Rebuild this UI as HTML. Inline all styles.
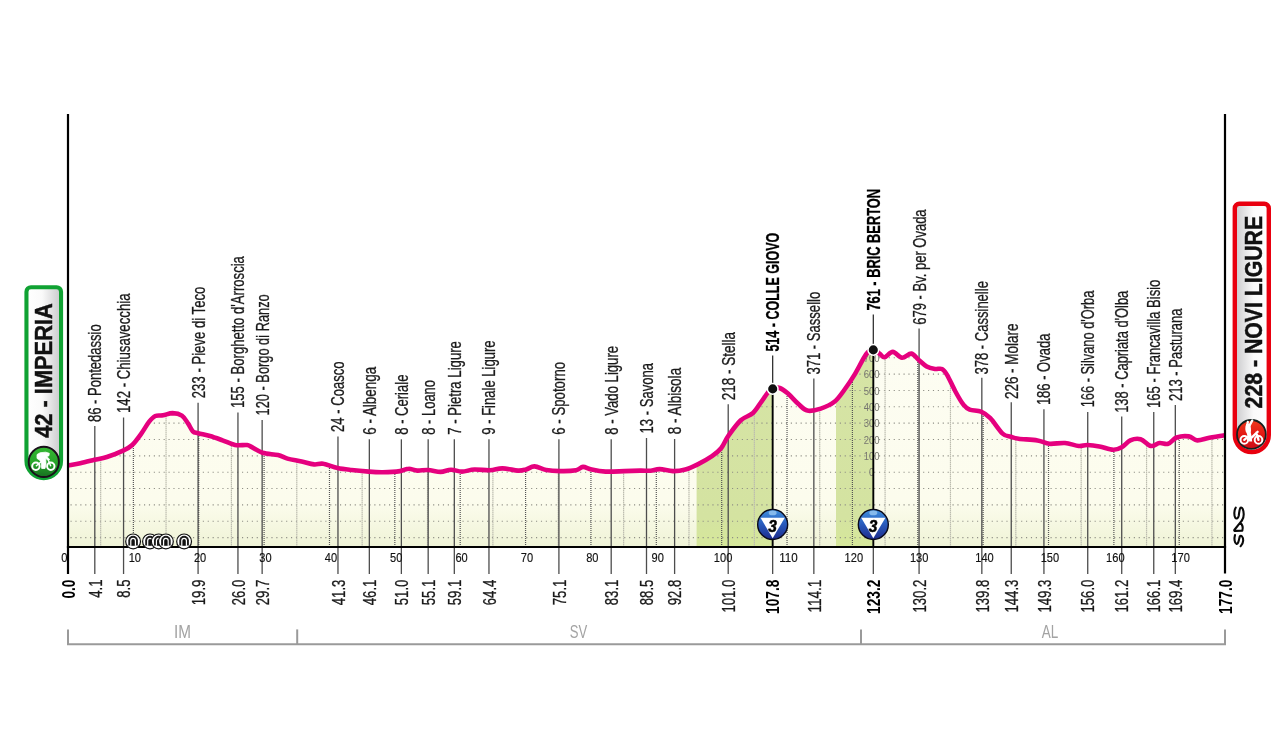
<!DOCTYPE html>
<html><head><meta charset="utf-8"><title>Stage profile</title>
<style>
html,body{margin:0;padding:0;background:#fff;}
body{width:1280px;height:731px;overflow:hidden;font-family:"Liberation Sans",sans-serif;}
svg{display:block;font-family:"Liberation Sans",sans-serif;will-change:transform;}
</style></head><body>
<svg width="1280" height="731" viewBox="0 0 1280 731">
<defs>
<linearGradient id="cream" x1="0" y1="330" x2="0" y2="550" gradientUnits="userSpaceOnUse">
<stop offset="0" stop-color="#fdfdf3"/><stop offset="0.78" stop-color="#fcfced"/><stop offset="0.99" stop-color="#eff3d6"/><stop offset="1" stop-color="#eff3d6"/>
</linearGradient>
<linearGradient id="grn" x1="0" y1="330" x2="0" y2="550" gradientUnits="userSpaceOnUse">
<stop offset="0" stop-color="#d6e4a6"/><stop offset="0.85" stop-color="#d4e3a1"/><stop offset="0.99" stop-color="#d6e89a"/><stop offset="1" stop-color="#d6e89a"/>
</linearGradient>
<linearGradient id="badgeL" x1="0" y1="0" x2="1" y2="0"><stop offset="0" stop-color="#ffffff"/><stop offset="0.45" stop-color="#fafafa"/><stop offset="1" stop-color="#c9c9cb"/></linearGradient>
<linearGradient id="badgeR" x1="0" y1="0" x2="1" y2="0"><stop offset="0" stop-color="#c9c9cb"/><stop offset="0.55" stop-color="#fafafa"/><stop offset="1" stop-color="#ffffff"/></linearGradient>
<linearGradient id="gcirc" x1="0" y1="0" x2="0" y2="1"><stop offset="0" stop-color="#35b832"/><stop offset="0.55" stop-color="#27a32a"/><stop offset="1" stop-color="#176f20"/></linearGradient>
<linearGradient id="rcirc" x1="0" y1="0" x2="0" y2="1"><stop offset="0" stop-color="#ee3a1c"/><stop offset="0.5" stop-color="#e31a14"/><stop offset="1" stop-color="#cc0d18"/></linearGradient>
<linearGradient id="kom" x1="0" y1="0" x2="0" y2="1"><stop offset="0" stop-color="#3f8fdc"/><stop offset="0.45" stop-color="#2a5fc0"/><stop offset="1" stop-color="#1c2a8c"/></linearGradient>
<clipPath id="area"><path d="M68.0,465.6 C70.0,465.2 75.9,464.3 80.3,463.3 C84.7,462.3 90.0,460.9 94.4,459.8 C98.8,458.8 102.2,458.5 106.9,457.0 C111.6,455.5 118.3,452.8 122.5,450.8 C126.7,448.9 128.8,448.2 131.9,445.3 C135.0,442.4 138.5,437.5 141.3,433.6 C144.2,429.7 146.7,424.8 149.0,421.9 C151.3,419.0 153.0,417.1 155.3,416.0 C157.6,414.9 160.1,415.8 163.0,415.3 C165.9,414.8 169.3,413.1 172.5,413.1 C175.7,413.2 179.3,413.9 181.9,415.6 C184.5,417.3 186.2,420.8 188.0,423.4 C189.8,426.0 191.1,429.6 192.8,431.3 C194.5,433.0 195.4,432.5 198.3,433.3 C201.2,434.1 206.0,434.8 210.0,436.0 C214.0,437.2 218.3,438.8 222.5,440.3 C226.7,441.8 231.1,444.2 235.0,445.0 C238.9,445.8 243.5,444.8 246.0,445.0 C248.5,445.2 247.2,444.8 250.0,446.1 C252.8,447.4 257.8,451.3 262.5,452.8 C267.2,454.3 273.8,454.0 278.0,455.0 C282.2,456.0 283.6,457.5 287.5,458.6 C291.4,459.7 297.2,460.4 301.6,461.4 C306.0,462.4 310.4,464.0 314.0,464.4 C317.6,464.8 319.5,463.1 323.4,463.8 C327.3,464.4 332.8,467.0 337.5,468.0 C342.2,469.0 346.4,469.4 351.6,470.0 C356.8,470.6 363.6,471.2 368.8,471.6 C373.9,472.0 377.6,472.3 382.8,472.2 C388.0,472.1 395.7,471.7 400.0,471.1 C404.3,470.5 405.7,468.8 408.6,468.8 C411.5,468.7 414.0,470.4 417.2,470.6 C420.4,470.8 424.1,469.8 428.0,470.0 C431.9,470.2 436.8,471.9 440.6,471.9 C444.4,471.8 447.4,469.8 451.0,469.7 C454.6,469.6 458.0,471.6 461.9,471.6 C465.8,471.6 469.7,469.7 474.4,469.5 C479.1,469.3 485.3,470.5 490.0,470.3 C494.7,470.1 497.8,468.3 502.5,468.4 C507.2,468.4 514.1,470.4 518.0,470.6 C521.9,470.8 523.2,470.2 526.0,469.5 C528.8,468.8 531.1,466.3 534.5,466.4 C537.9,466.5 542.0,469.2 546.2,470.0 C550.5,470.8 555.3,471.1 560.3,471.1 C565.3,471.2 572.2,471.0 576.0,470.3 C579.8,469.6 580.4,467.0 583.0,466.9 C585.6,466.8 587.8,468.7 591.6,469.5 C595.4,470.3 600.1,471.3 605.6,471.6 C611.1,471.9 618.7,471.3 624.4,471.1 C630.1,470.9 635.6,470.7 640.0,470.6 C644.4,470.5 647.2,470.9 650.5,470.7 C653.8,470.4 656.0,469.0 659.7,469.1 C663.5,469.2 668.7,471.0 673.0,471.1 C677.3,471.2 681.3,470.6 685.4,469.5 C689.5,468.4 693.3,466.6 697.7,464.4 C702.1,462.2 708.1,458.9 712.0,456.2 C715.9,453.5 718.5,451.4 721.3,448.0 C724.0,444.6 725.2,440.2 728.5,435.6 C731.8,431.0 736.7,424.1 740.8,420.3 C744.9,416.5 749.6,416.1 753.0,413.0 C756.4,409.9 758.8,405.2 761.3,401.8 C763.8,398.4 765.9,394.9 767.8,392.6 C769.7,390.3 770.6,388.8 772.6,388.0 C774.6,387.2 777.1,387.1 779.7,388.0 C782.3,388.9 784.9,391.0 788.0,393.6 C791.1,396.2 795.0,401.0 798.2,403.8 C801.4,406.6 803.6,409.8 807.4,410.6 C811.2,411.4 816.3,410.1 820.8,408.6 C825.3,407.1 830.4,405.0 834.4,401.8 C838.4,398.6 841.2,394.1 844.6,389.5 C848.0,384.9 851.3,380.0 854.9,374.1 C858.5,368.2 863.1,358.4 866.2,354.2 C869.3,350.0 871.1,349.1 873.3,349.0 C875.5,348.9 877.6,352.2 879.5,353.6 C881.4,355.0 882.4,357.6 884.6,357.3 C886.8,357.0 889.9,351.8 892.8,351.9 C895.7,352.0 898.9,357.4 902.0,357.7 C905.1,358.0 908.5,353.3 911.3,353.6 C914.0,353.9 915.9,357.6 918.5,359.7 C921.1,361.8 924.0,364.9 926.7,366.5 C929.4,368.1 932.4,368.6 934.9,369.0 C937.4,369.4 940.0,368.0 942.0,369.0 C944.0,370.0 945.0,371.4 947.2,375.1 C949.4,378.9 952.7,386.5 955.4,391.5 C958.1,396.5 961.2,401.9 963.6,404.9 C966.0,407.9 966.8,408.5 969.7,409.6 C972.6,410.7 977.6,410.2 981.0,411.6 C984.4,413.0 986.7,414.5 990.3,418.2 C993.9,421.9 999.2,430.5 1002.6,433.6 C1006.0,436.7 1008.1,435.9 1010.8,436.7 C1013.5,437.5 1014.1,438.1 1018.6,438.7 C1023.1,439.3 1032.3,439.5 1037.5,440.4 C1042.7,441.2 1044.9,443.4 1049.5,443.8 C1054.1,444.2 1060.1,442.6 1065.0,443.0 C1069.9,443.4 1075.0,445.7 1078.8,446.0 C1082.5,446.3 1083.9,444.9 1087.3,445.0 C1090.7,445.1 1095.1,445.6 1099.4,446.4 C1103.7,447.2 1109.4,449.6 1113.1,449.8 C1116.8,450.0 1118.8,448.9 1121.7,447.3 C1124.6,445.7 1127.2,441.8 1130.3,440.4 C1133.4,439.0 1137.2,438.3 1140.6,439.2 C1144.0,440.1 1147.8,445.4 1150.9,446.0 C1154.1,446.6 1156.6,443.4 1159.5,443.0 C1162.4,442.6 1165.2,444.7 1168.1,443.8 C1171.0,442.9 1173.3,438.7 1176.7,437.5 C1180.1,436.3 1185.3,435.9 1188.8,436.4 C1192.2,436.9 1193.9,440.2 1197.3,440.4 C1200.7,440.6 1204.8,438.7 1209.4,437.8 C1214.0,436.9 1222.4,435.6 1225.0,435.2 L1225,547.1 L68,547.1 Z"/></clipPath>
</defs>
<rect width="1280" height="731" fill="#fff"/>

<g clip-path="url(#area)">
<rect x="68" y="330" width="1157" height="220" fill="url(#cream)"/>
<rect x="696.6" y="330" width="76.1" height="220" fill="url(#grn)"/>
<rect x="836" y="330" width="37.3" height="220" fill="url(#grn)"/>
<line x1="70.5" x2="1225" y1="537.60" y2="537.60" stroke="#8f8f86" stroke-width="1.1" stroke-dasharray="1.15 3.75"/>
<line x1="70.5" x2="1225" y1="521.25" y2="521.25" stroke="#8f8f86" stroke-width="1.1" stroke-dasharray="1.15 3.75"/>
<line x1="70.5" x2="1225" y1="504.90" y2="504.90" stroke="#8f8f86" stroke-width="1.1" stroke-dasharray="1.15 3.75"/>
<line x1="70.5" x2="1225" y1="488.55" y2="488.55" stroke="#8f8f86" stroke-width="1.1" stroke-dasharray="1.15 3.75"/>
<line x1="70.5" x2="1225" y1="472.20" y2="472.20" stroke="#8f8f86" stroke-width="1.1" stroke-dasharray="1.15 3.75"/>
<line x1="70.5" x2="1225" y1="455.85" y2="455.85" stroke="#8f8f86" stroke-width="1.1" stroke-dasharray="1.15 3.75"/>
<line x1="70.5" x2="1225" y1="439.50" y2="439.50" stroke="#8f8f86" stroke-width="1.1" stroke-dasharray="1.15 3.75"/>
<line x1="70.5" x2="1225" y1="423.15" y2="423.15" stroke="#8f8f86" stroke-width="1.1" stroke-dasharray="1.15 3.75"/>
<line x1="70.5" x2="1225" y1="406.80" y2="406.80" stroke="#8f8f86" stroke-width="1.1" stroke-dasharray="1.15 3.75"/>
<line x1="70.5" x2="1225" y1="390.45" y2="390.45" stroke="#8f8f86" stroke-width="1.1" stroke-dasharray="1.15 3.75"/>
<line x1="70.5" x2="1225" y1="374.10" y2="374.10" stroke="#8f8f86" stroke-width="1.1" stroke-dasharray="1.15 3.75"/>
<line x1="70.5" x2="1225" y1="357.75" y2="357.75" stroke="#8f8f86" stroke-width="1.1" stroke-dasharray="1.15 3.75"/>
<line x1="100.68" x2="100.68" y1="330" y2="547.1" stroke="#bdbdb0" stroke-width="1.2" stroke-dasharray="1.4 0.6"/>
<line x1="133.37" x2="133.37" y1="330" y2="547.1" stroke="#555" stroke-width="1.2" stroke-dasharray="1 1"/>
<line x1="166.05" x2="166.05" y1="330" y2="547.1" stroke="#bdbdb0" stroke-width="1.2" stroke-dasharray="1.4 0.6"/>
<line x1="198.73" x2="198.73" y1="330" y2="547.1" stroke="#555" stroke-width="1.2" stroke-dasharray="1 1"/>
<line x1="231.42" x2="231.42" y1="330" y2="547.1" stroke="#bdbdb0" stroke-width="1.2" stroke-dasharray="1.4 0.6"/>
<line x1="264.10" x2="264.10" y1="330" y2="547.1" stroke="#555" stroke-width="1.2" stroke-dasharray="1 1"/>
<line x1="296.79" x2="296.79" y1="330" y2="547.1" stroke="#bdbdb0" stroke-width="1.2" stroke-dasharray="1.4 0.6"/>
<line x1="329.47" x2="329.47" y1="330" y2="547.1" stroke="#555" stroke-width="1.2" stroke-dasharray="1 1"/>
<line x1="362.15" x2="362.15" y1="330" y2="547.1" stroke="#bdbdb0" stroke-width="1.2" stroke-dasharray="1.4 0.6"/>
<line x1="394.84" x2="394.84" y1="330" y2="547.1" stroke="#555" stroke-width="1.2" stroke-dasharray="1 1"/>
<line x1="427.52" x2="427.52" y1="330" y2="547.1" stroke="#bdbdb0" stroke-width="1.2" stroke-dasharray="1.4 0.6"/>
<line x1="460.20" x2="460.20" y1="330" y2="547.1" stroke="#555" stroke-width="1.2" stroke-dasharray="1 1"/>
<line x1="492.89" x2="492.89" y1="330" y2="547.1" stroke="#bdbdb0" stroke-width="1.2" stroke-dasharray="1.4 0.6"/>
<line x1="525.57" x2="525.57" y1="330" y2="547.1" stroke="#555" stroke-width="1.2" stroke-dasharray="1 1"/>
<line x1="558.25" x2="558.25" y1="330" y2="547.1" stroke="#bdbdb0" stroke-width="1.2" stroke-dasharray="1.4 0.6"/>
<line x1="590.94" x2="590.94" y1="330" y2="547.1" stroke="#555" stroke-width="1.2" stroke-dasharray="1 1"/>
<line x1="623.62" x2="623.62" y1="330" y2="547.1" stroke="#bdbdb0" stroke-width="1.2" stroke-dasharray="1.4 0.6"/>
<line x1="656.31" x2="656.31" y1="330" y2="547.1" stroke="#555" stroke-width="1.2" stroke-dasharray="1 1"/>
<line x1="688.99" x2="688.99" y1="330" y2="547.1" stroke="#bdbdb0" stroke-width="1.2" stroke-dasharray="1.4 0.6"/>
<line x1="721.67" x2="721.67" y1="330" y2="547.1" stroke="#555" stroke-width="1.2" stroke-dasharray="1 1"/>
<line x1="754.36" x2="754.36" y1="330" y2="547.1" stroke="#bdbdb0" stroke-width="1.2" stroke-dasharray="1.4 0.6"/>
<line x1="787.04" x2="787.04" y1="330" y2="547.1" stroke="#555" stroke-width="1.2" stroke-dasharray="1 1"/>
<line x1="819.72" x2="819.72" y1="330" y2="547.1" stroke="#bdbdb0" stroke-width="1.2" stroke-dasharray="1.4 0.6"/>
<line x1="852.41" x2="852.41" y1="330" y2="547.1" stroke="#555" stroke-width="1.2" stroke-dasharray="1 1"/>
<line x1="885.09" x2="885.09" y1="330" y2="547.1" stroke="#bdbdb0" stroke-width="1.2" stroke-dasharray="1.4 0.6"/>
<line x1="917.77" x2="917.77" y1="330" y2="547.1" stroke="#555" stroke-width="1.2" stroke-dasharray="1 1"/>
<line x1="950.46" x2="950.46" y1="330" y2="547.1" stroke="#bdbdb0" stroke-width="1.2" stroke-dasharray="1.4 0.6"/>
<line x1="983.14" x2="983.14" y1="330" y2="547.1" stroke="#555" stroke-width="1.2" stroke-dasharray="1 1"/>
<line x1="1015.82" x2="1015.82" y1="330" y2="547.1" stroke="#bdbdb0" stroke-width="1.2" stroke-dasharray="1.4 0.6"/>
<line x1="1048.51" x2="1048.51" y1="330" y2="547.1" stroke="#555" stroke-width="1.2" stroke-dasharray="1 1"/>
<line x1="1081.19" x2="1081.19" y1="330" y2="547.1" stroke="#bdbdb0" stroke-width="1.2" stroke-dasharray="1.4 0.6"/>
<line x1="1113.88" x2="1113.88" y1="330" y2="547.1" stroke="#555" stroke-width="1.2" stroke-dasharray="1 1"/>
<line x1="1146.56" x2="1146.56" y1="330" y2="547.1" stroke="#bdbdb0" stroke-width="1.2" stroke-dasharray="1.4 0.6"/>
<line x1="1179.24" x2="1179.24" y1="330" y2="547.1" stroke="#555" stroke-width="1.2" stroke-dasharray="1 1"/>
<line x1="1211.93" x2="1211.93" y1="330" y2="547.1" stroke="#bdbdb0" stroke-width="1.2" stroke-dasharray="1.4 0.6"/>
</g>
<g font-size="11.5" fill="#77776f" text-anchor="middle" clip-path="url(#area)">
<text x="871.7" y="476.3" textLength="5.3" lengthAdjust="spacingAndGlyphs">0</text>
<text x="871.7" y="459.9" textLength="15.9" lengthAdjust="spacingAndGlyphs">100</text>
<text x="871.7" y="443.6" textLength="15.9" lengthAdjust="spacingAndGlyphs">200</text>
<text x="871.7" y="427.2" textLength="15.9" lengthAdjust="spacingAndGlyphs">300</text>
<text x="871.7" y="410.9" textLength="15.9" lengthAdjust="spacingAndGlyphs">400</text>
<text x="871.7" y="394.6" textLength="15.9" lengthAdjust="spacingAndGlyphs">500</text>
<text x="871.7" y="378.2" textLength="15.9" lengthAdjust="spacingAndGlyphs">600</text>
<text x="871.7" y="361.9" textLength="15.9" lengthAdjust="spacingAndGlyphs">700</text>
</g>
<line x1="94.80" x2="94.80" y1="426.0" y2="574" stroke="#4d4d4d" stroke-width="1.3"/>
<line x1="123.56" x2="123.56" y1="417.5" y2="574" stroke="#4d4d4d" stroke-width="1.3"/>
<line x1="198.08" x2="198.08" y1="402.7" y2="574" stroke="#4d4d4d" stroke-width="1.3"/>
<line x1="237.95" x2="237.95" y1="412.6" y2="574" stroke="#4d4d4d" stroke-width="1.3"/>
<line x1="262.14" x2="262.14" y1="420.0" y2="574" stroke="#4d4d4d" stroke-width="1.3"/>
<line x1="337.97" x2="337.97" y1="436.6" y2="574" stroke="#4d4d4d" stroke-width="1.3"/>
<line x1="369.34" x2="369.34" y1="439.3" y2="574" stroke="#4d4d4d" stroke-width="1.3"/>
<line x1="401.37" x2="401.37" y1="439.3" y2="574" stroke="#4d4d4d" stroke-width="1.3"/>
<line x1="428.17" x2="428.17" y1="439.3" y2="574" stroke="#4d4d4d" stroke-width="1.3"/>
<line x1="454.32" x2="454.32" y1="439.3" y2="574" stroke="#4d4d4d" stroke-width="1.3"/>
<line x1="488.96" x2="488.96" y1="439.3" y2="574" stroke="#4d4d4d" stroke-width="1.3"/>
<line x1="558.91" x2="558.91" y1="439.3" y2="574" stroke="#4d4d4d" stroke-width="1.3"/>
<line x1="611.20" x2="611.20" y1="439.3" y2="574" stroke="#4d4d4d" stroke-width="1.3"/>
<line x1="646.50" x2="646.50" y1="438.0" y2="574" stroke="#4d4d4d" stroke-width="1.3"/>
<line x1="674.61" x2="674.61" y1="439.0" y2="574" stroke="#4d4d4d" stroke-width="1.3"/>
<line x1="728.21" x2="728.21" y1="404.2" y2="574" stroke="#4d4d4d" stroke-width="1.3"/>
<line x1="772.66" x2="772.66" y1="355.6" y2="388.9" stroke="#333" stroke-width="1.3"/>
<line x1="772.66" x2="772.66" y1="388.9" y2="548" stroke="#000" stroke-width="1.9"/>
<line x1="772.66" x2="772.66" y1="547" y2="574" stroke="#4d4d4d" stroke-width="1.3"/>
<line x1="813.84" x2="813.84" y1="378.6" y2="574" stroke="#4d4d4d" stroke-width="1.3"/>
<line x1="873.32" x2="873.32" y1="314.6" y2="349.9" stroke="#333" stroke-width="1.3"/>
<line x1="873.32" x2="873.32" y1="349.9" y2="548" stroke="#000" stroke-width="1.9"/>
<line x1="873.32" x2="873.32" y1="547" y2="574" stroke="#4d4d4d" stroke-width="1.3"/>
<line x1="919.08" x2="919.08" y1="328.4" y2="574" stroke="#4d4d4d" stroke-width="1.3"/>
<line x1="981.83" x2="981.83" y1="377.7" y2="574" stroke="#4d4d4d" stroke-width="1.3"/>
<line x1="1011.25" x2="1011.25" y1="402.3" y2="574" stroke="#4d4d4d" stroke-width="1.3"/>
<line x1="1043.93" x2="1043.93" y1="409.2" y2="574" stroke="#4d4d4d" stroke-width="1.3"/>
<line x1="1087.73" x2="1087.73" y1="411.9" y2="574" stroke="#4d4d4d" stroke-width="1.3"/>
<line x1="1121.72" x2="1121.72" y1="416.5" y2="574" stroke="#4d4d4d" stroke-width="1.3"/>
<line x1="1153.75" x2="1153.75" y1="411.9" y2="574" stroke="#4d4d4d" stroke-width="1.3"/>
<line x1="1175.32" x2="1175.32" y1="405.0" y2="574" stroke="#4d4d4d" stroke-width="1.3"/>
<path d="M68.0,465.6 C70.0,465.2 75.9,464.3 80.3,463.3 C84.7,462.3 90.0,460.9 94.4,459.8 C98.8,458.8 102.2,458.5 106.9,457.0 C111.6,455.5 118.3,452.8 122.5,450.8 C126.7,448.9 128.8,448.2 131.9,445.3 C135.0,442.4 138.5,437.5 141.3,433.6 C144.2,429.7 146.7,424.8 149.0,421.9 C151.3,419.0 153.0,417.1 155.3,416.0 C157.6,414.9 160.1,415.8 163.0,415.3 C165.9,414.8 169.3,413.1 172.5,413.1 C175.7,413.2 179.3,413.9 181.9,415.6 C184.5,417.3 186.2,420.8 188.0,423.4 C189.8,426.0 191.1,429.6 192.8,431.3 C194.5,433.0 195.4,432.5 198.3,433.3 C201.2,434.1 206.0,434.8 210.0,436.0 C214.0,437.2 218.3,438.8 222.5,440.3 C226.7,441.8 231.1,444.2 235.0,445.0 C238.9,445.8 243.5,444.8 246.0,445.0 C248.5,445.2 247.2,444.8 250.0,446.1 C252.8,447.4 257.8,451.3 262.5,452.8 C267.2,454.3 273.8,454.0 278.0,455.0 C282.2,456.0 283.6,457.5 287.5,458.6 C291.4,459.7 297.2,460.4 301.6,461.4 C306.0,462.4 310.4,464.0 314.0,464.4 C317.6,464.8 319.5,463.1 323.4,463.8 C327.3,464.4 332.8,467.0 337.5,468.0 C342.2,469.0 346.4,469.4 351.6,470.0 C356.8,470.6 363.6,471.2 368.8,471.6 C373.9,472.0 377.6,472.3 382.8,472.2 C388.0,472.1 395.7,471.7 400.0,471.1 C404.3,470.5 405.7,468.8 408.6,468.8 C411.5,468.7 414.0,470.4 417.2,470.6 C420.4,470.8 424.1,469.8 428.0,470.0 C431.9,470.2 436.8,471.9 440.6,471.9 C444.4,471.8 447.4,469.8 451.0,469.7 C454.6,469.6 458.0,471.6 461.9,471.6 C465.8,471.6 469.7,469.7 474.4,469.5 C479.1,469.3 485.3,470.5 490.0,470.3 C494.7,470.1 497.8,468.3 502.5,468.4 C507.2,468.4 514.1,470.4 518.0,470.6 C521.9,470.8 523.2,470.2 526.0,469.5 C528.8,468.8 531.1,466.3 534.5,466.4 C537.9,466.5 542.0,469.2 546.2,470.0 C550.5,470.8 555.3,471.1 560.3,471.1 C565.3,471.2 572.2,471.0 576.0,470.3 C579.8,469.6 580.4,467.0 583.0,466.9 C585.6,466.8 587.8,468.7 591.6,469.5 C595.4,470.3 600.1,471.3 605.6,471.6 C611.1,471.9 618.7,471.3 624.4,471.1 C630.1,470.9 635.6,470.7 640.0,470.6 C644.4,470.5 647.2,470.9 650.5,470.7 C653.8,470.4 656.0,469.0 659.7,469.1 C663.5,469.2 668.7,471.0 673.0,471.1 C677.3,471.2 681.3,470.6 685.4,469.5 C689.5,468.4 693.3,466.6 697.7,464.4 C702.1,462.2 708.1,458.9 712.0,456.2 C715.9,453.5 718.5,451.4 721.3,448.0 C724.0,444.6 725.2,440.2 728.5,435.6 C731.8,431.0 736.7,424.1 740.8,420.3 C744.9,416.5 749.6,416.1 753.0,413.0 C756.4,409.9 758.8,405.2 761.3,401.8 C763.8,398.4 765.9,394.9 767.8,392.6 C769.7,390.3 770.6,388.8 772.6,388.0 C774.6,387.2 777.1,387.1 779.7,388.0 C782.3,388.9 784.9,391.0 788.0,393.6 C791.1,396.2 795.0,401.0 798.2,403.8 C801.4,406.6 803.6,409.8 807.4,410.6 C811.2,411.4 816.3,410.1 820.8,408.6 C825.3,407.1 830.4,405.0 834.4,401.8 C838.4,398.6 841.2,394.1 844.6,389.5 C848.0,384.9 851.3,380.0 854.9,374.1 C858.5,368.2 863.1,358.4 866.2,354.2 C869.3,350.0 871.1,349.1 873.3,349.0 C875.5,348.9 877.6,352.2 879.5,353.6 C881.4,355.0 882.4,357.6 884.6,357.3 C886.8,357.0 889.9,351.8 892.8,351.9 C895.7,352.0 898.9,357.4 902.0,357.7 C905.1,358.0 908.5,353.3 911.3,353.6 C914.0,353.9 915.9,357.6 918.5,359.7 C921.1,361.8 924.0,364.9 926.7,366.5 C929.4,368.1 932.4,368.6 934.9,369.0 C937.4,369.4 940.0,368.0 942.0,369.0 C944.0,370.0 945.0,371.4 947.2,375.1 C949.4,378.9 952.7,386.5 955.4,391.5 C958.1,396.5 961.2,401.9 963.6,404.9 C966.0,407.9 966.8,408.5 969.7,409.6 C972.6,410.7 977.6,410.2 981.0,411.6 C984.4,413.0 986.7,414.5 990.3,418.2 C993.9,421.9 999.2,430.5 1002.6,433.6 C1006.0,436.7 1008.1,435.9 1010.8,436.7 C1013.5,437.5 1014.1,438.1 1018.6,438.7 C1023.1,439.3 1032.3,439.5 1037.5,440.4 C1042.7,441.2 1044.9,443.4 1049.5,443.8 C1054.1,444.2 1060.1,442.6 1065.0,443.0 C1069.9,443.4 1075.0,445.7 1078.8,446.0 C1082.5,446.3 1083.9,444.9 1087.3,445.0 C1090.7,445.1 1095.1,445.6 1099.4,446.4 C1103.7,447.2 1109.4,449.6 1113.1,449.8 C1116.8,450.0 1118.8,448.9 1121.7,447.3 C1124.6,445.7 1127.2,441.8 1130.3,440.4 C1133.4,439.0 1137.2,438.3 1140.6,439.2 C1144.0,440.1 1147.8,445.4 1150.9,446.0 C1154.1,446.6 1156.6,443.4 1159.5,443.0 C1162.4,442.6 1165.2,444.7 1168.1,443.8 C1171.0,442.9 1173.3,438.7 1176.7,437.5 C1180.1,436.3 1185.3,435.9 1188.8,436.4 C1192.2,436.9 1193.9,440.2 1197.3,440.4 C1200.7,440.6 1204.8,438.7 1209.4,437.8 C1214.0,436.9 1222.4,435.6 1225.0,435.2" fill="none" stroke="#e5007e" stroke-width="4.6" stroke-linejoin="round" stroke-linecap="butt"/>
<line x1="68" x2="68" y1="114" y2="574" stroke="#000" stroke-width="2.2"/>
<line x1="1225" x2="1225" y1="114" y2="573.4" stroke="#000" stroke-width="2.2"/>
<line x1="66.9" x2="1226.1" y1="547.1" y2="547.1" stroke="#000" stroke-width="2"/>
<circle cx="772.7" cy="388.9" r="5.3" fill="#111" stroke="#fff" stroke-width="1.5"/>
<circle cx="873.3" cy="349.9" r="5.3" fill="#111" stroke="#fff" stroke-width="1.5"/>
<text transform="translate(101.2,422.1) rotate(-90)" font-size="18.7" fill="#1a1a1a" stroke="#1a1a1a" stroke-width="0.3" textLength="97.8" lengthAdjust="spacingAndGlyphs">86 - Pontedassio</text>
<text transform="translate(130.0,413.0) rotate(-90)" font-size="18.7" fill="#1a1a1a" stroke="#1a1a1a" stroke-width="0.3" textLength="119.5" lengthAdjust="spacingAndGlyphs">142 - Chiusavecchia</text>
<text transform="translate(204.5,398.2) rotate(-90)" font-size="18.7" fill="#1a1a1a" stroke="#1a1a1a" stroke-width="0.3" textLength="111.6" lengthAdjust="spacingAndGlyphs">233 - Pieve di Teco</text>
<text transform="translate(244.4,408.0) rotate(-90)" font-size="18.7" fill="#1a1a1a" stroke="#1a1a1a" stroke-width="0.3" textLength="151.9" lengthAdjust="spacingAndGlyphs">155 - Borghetto d'Arroscia</text>
<text transform="translate(268.5,415.4) rotate(-90)" font-size="18.7" fill="#1a1a1a" stroke="#1a1a1a" stroke-width="0.3" textLength="121.1" lengthAdjust="spacingAndGlyphs">120 - Borgo di Ranzo</text>
<text transform="translate(344.4,431.9) rotate(-90)" font-size="18.7" fill="#1a1a1a" stroke="#1a1a1a" stroke-width="0.3" textLength="70.5" lengthAdjust="spacingAndGlyphs">24 - Coasco</text>
<text transform="translate(375.7,434.7) rotate(-90)" font-size="18.7" fill="#1a1a1a" stroke="#1a1a1a" stroke-width="0.3" textLength="67.8" lengthAdjust="spacingAndGlyphs">6 - Albenga</text>
<text transform="translate(407.8,434.7) rotate(-90)" font-size="18.7" fill="#1a1a1a" stroke="#1a1a1a" stroke-width="0.3" textLength="60.1" lengthAdjust="spacingAndGlyphs">8 - Ceriale</text>
<text transform="translate(434.6,434.7) rotate(-90)" font-size="18.7" fill="#1a1a1a" stroke="#1a1a1a" stroke-width="0.3" textLength="54.7" lengthAdjust="spacingAndGlyphs">8 - Loano</text>
<text transform="translate(460.7,434.7) rotate(-90)" font-size="18.7" fill="#1a1a1a" stroke="#1a1a1a" stroke-width="0.3" textLength="93.6" lengthAdjust="spacingAndGlyphs">7 - Pietra Ligure</text>
<text transform="translate(495.4,434.7) rotate(-90)" font-size="18.7" fill="#1a1a1a" stroke="#1a1a1a" stroke-width="0.3" textLength="94.3" lengthAdjust="spacingAndGlyphs">9 - Finale Ligure</text>
<text transform="translate(565.3,434.7) rotate(-90)" font-size="18.7" fill="#1a1a1a" stroke="#1a1a1a" stroke-width="0.3" textLength="72.8" lengthAdjust="spacingAndGlyphs">6 - Spotorno</text>
<text transform="translate(617.6,434.7) rotate(-90)" font-size="18.7" fill="#1a1a1a" stroke="#1a1a1a" stroke-width="0.3" textLength="88.8" lengthAdjust="spacingAndGlyphs">8 - Vado Ligure</text>
<text transform="translate(652.9,433.4) rotate(-90)" font-size="18.7" fill="#1a1a1a" stroke="#1a1a1a" stroke-width="0.3" textLength="70.4" lengthAdjust="spacingAndGlyphs">13 - Savona</text>
<text transform="translate(681.0,434.3) rotate(-90)" font-size="18.7" fill="#1a1a1a" stroke="#1a1a1a" stroke-width="0.3" textLength="66.5" lengthAdjust="spacingAndGlyphs">8 - Albisola</text>
<text transform="translate(734.6,400.2) rotate(-90)" font-size="18.7" fill="#1a1a1a" stroke="#1a1a1a" stroke-width="0.3" textLength="68.3" lengthAdjust="spacingAndGlyphs">218 - Stella</text>
<text transform="translate(779.2,351.6) rotate(-90)" font-size="18.5" font-weight="bold" fill="#000" stroke="#000" stroke-width="0.3" textLength="118.9" lengthAdjust="spacingAndGlyphs">514 - COLLE GIOVO</text>
<text transform="translate(820.2,374.6) rotate(-90)" font-size="18.7" fill="#1a1a1a" stroke="#1a1a1a" stroke-width="0.3" textLength="82.8" lengthAdjust="spacingAndGlyphs">371 - Sassello</text>
<text transform="translate(879.8,310.6) rotate(-90)" font-size="18.5" font-weight="bold" fill="#000" stroke="#000" stroke-width="0.3" textLength="121.6" lengthAdjust="spacingAndGlyphs">761 - BRIC BERTON</text>
<text transform="translate(925.5,324.7) rotate(-90)" font-size="18.7" fill="#1a1a1a" stroke="#1a1a1a" stroke-width="0.3" textLength="115.3" lengthAdjust="spacingAndGlyphs">679 - Bv. per Ovada</text>
<text transform="translate(988.2,374.5) rotate(-90)" font-size="18.7" fill="#1a1a1a" stroke="#1a1a1a" stroke-width="0.3" textLength="93.4" lengthAdjust="spacingAndGlyphs">378 - Cassinelle</text>
<text transform="translate(1017.6,399.1) rotate(-90)" font-size="18.7" fill="#1a1a1a" stroke="#1a1a1a" stroke-width="0.3" textLength="75.6" lengthAdjust="spacingAndGlyphs">226 - Molare</text>
<text transform="translate(1050.3,405.1) rotate(-90)" font-size="18.7" fill="#1a1a1a" stroke="#1a1a1a" stroke-width="0.3" textLength="71.5" lengthAdjust="spacingAndGlyphs">186 - Ovada</text>
<text transform="translate(1094.1,407.3) rotate(-90)" font-size="18.7" fill="#1a1a1a" stroke="#1a1a1a" stroke-width="0.3" textLength="116.6" lengthAdjust="spacingAndGlyphs">166 - Silvano d'Orba</text>
<text transform="translate(1128.1,412.8) rotate(-90)" font-size="18.7" fill="#1a1a1a" stroke="#1a1a1a" stroke-width="0.3" textLength="122.1" lengthAdjust="spacingAndGlyphs">138 - Capriata d'Olba</text>
<text transform="translate(1160.1,407.9) rotate(-90)" font-size="18.7" fill="#1a1a1a" stroke="#1a1a1a" stroke-width="0.3" textLength="128.2" lengthAdjust="spacingAndGlyphs">165 - Francavilla Bisio</text>
<text transform="translate(1181.7,401.0) rotate(-90)" font-size="18.7" fill="#1a1a1a" stroke="#1a1a1a" stroke-width="0.3" textLength="92.5" lengthAdjust="spacingAndGlyphs">213 - Pasturana</text>
<g font-size="12.5" fill="#111" stroke="#111" stroke-width="0.15" text-anchor="middle">
<text x="64.4" y="561.6" textLength="6.2" lengthAdjust="spacingAndGlyphs">0</text>
<text x="134.8" y="561.6" textLength="12.3" lengthAdjust="spacingAndGlyphs">10</text>
<text x="200.1" y="561.6" textLength="12.3" lengthAdjust="spacingAndGlyphs">20</text>
<text x="265.5" y="561.6" textLength="12.3" lengthAdjust="spacingAndGlyphs">30</text>
<text x="330.9" y="561.6" textLength="12.3" lengthAdjust="spacingAndGlyphs">40</text>
<text x="396.2" y="561.6" textLength="12.3" lengthAdjust="spacingAndGlyphs">50</text>
<text x="461.6" y="561.6" textLength="12.3" lengthAdjust="spacingAndGlyphs">60</text>
<text x="527.0" y="561.6" textLength="12.3" lengthAdjust="spacingAndGlyphs">70</text>
<text x="592.3" y="561.6" textLength="12.3" lengthAdjust="spacingAndGlyphs">80</text>
<text x="657.7" y="561.6" textLength="12.3" lengthAdjust="spacingAndGlyphs">90</text>
<text x="723.1" y="561.6" textLength="18.5" lengthAdjust="spacingAndGlyphs">100</text>
<text x="788.4" y="561.6" textLength="18.5" lengthAdjust="spacingAndGlyphs">110</text>
<text x="853.8" y="561.6" textLength="18.5" lengthAdjust="spacingAndGlyphs">120</text>
<text x="919.2" y="561.6" textLength="18.5" lengthAdjust="spacingAndGlyphs">130</text>
<text x="984.5" y="561.6" textLength="18.5" lengthAdjust="spacingAndGlyphs">140</text>
<text x="1049.9" y="561.6" textLength="18.5" lengthAdjust="spacingAndGlyphs">150</text>
<text x="1115.3" y="561.6" textLength="18.5" lengthAdjust="spacingAndGlyphs">160</text>
<text x="1180.6" y="561.6" textLength="18.5" lengthAdjust="spacingAndGlyphs">170</text>
</g>
<text transform="translate(74.7,579.6) rotate(-90)" font-size="18.5" font-weight="bold" text-anchor="end" fill="#000" textLength="18.9" lengthAdjust="spacingAndGlyphs">0.0</text>
<text transform="translate(101.5,579.6) rotate(-90)" font-size="18.5" text-anchor="end" fill="#1a1a1a" stroke="#1a1a1a" stroke-width="0.3" textLength="18.2" lengthAdjust="spacingAndGlyphs">4.1</text>
<text transform="translate(130.3,579.6) rotate(-90)" font-size="18.5" text-anchor="end" fill="#1a1a1a" stroke="#1a1a1a" stroke-width="0.3" textLength="18.2" lengthAdjust="spacingAndGlyphs">8.5</text>
<text transform="translate(204.8,579.6) rotate(-90)" font-size="18.5" text-anchor="end" fill="#1a1a1a" stroke="#1a1a1a" stroke-width="0.3" textLength="25.6" lengthAdjust="spacingAndGlyphs">19.9</text>
<text transform="translate(244.7,579.6) rotate(-90)" font-size="18.5" text-anchor="end" fill="#1a1a1a" stroke="#1a1a1a" stroke-width="0.3" textLength="25.6" lengthAdjust="spacingAndGlyphs">26.0</text>
<text transform="translate(268.8,579.6) rotate(-90)" font-size="18.5" text-anchor="end" fill="#1a1a1a" stroke="#1a1a1a" stroke-width="0.3" textLength="25.6" lengthAdjust="spacingAndGlyphs">29.7</text>
<text transform="translate(344.7,579.6) rotate(-90)" font-size="18.5" text-anchor="end" fill="#1a1a1a" stroke="#1a1a1a" stroke-width="0.3" textLength="25.6" lengthAdjust="spacingAndGlyphs">41.3</text>
<text transform="translate(376.0,579.6) rotate(-90)" font-size="18.5" text-anchor="end" fill="#1a1a1a" stroke="#1a1a1a" stroke-width="0.3" textLength="25.6" lengthAdjust="spacingAndGlyphs">46.1</text>
<text transform="translate(408.1,579.6) rotate(-90)" font-size="18.5" text-anchor="end" fill="#1a1a1a" stroke="#1a1a1a" stroke-width="0.3" textLength="25.6" lengthAdjust="spacingAndGlyphs">51.0</text>
<text transform="translate(434.9,579.6) rotate(-90)" font-size="18.5" text-anchor="end" fill="#1a1a1a" stroke="#1a1a1a" stroke-width="0.3" textLength="25.6" lengthAdjust="spacingAndGlyphs">55.1</text>
<text transform="translate(461.0,579.6) rotate(-90)" font-size="18.5" text-anchor="end" fill="#1a1a1a" stroke="#1a1a1a" stroke-width="0.3" textLength="25.6" lengthAdjust="spacingAndGlyphs">59.1</text>
<text transform="translate(495.7,579.6) rotate(-90)" font-size="18.5" text-anchor="end" fill="#1a1a1a" stroke="#1a1a1a" stroke-width="0.3" textLength="25.6" lengthAdjust="spacingAndGlyphs">64.4</text>
<text transform="translate(565.6,579.6) rotate(-90)" font-size="18.5" text-anchor="end" fill="#1a1a1a" stroke="#1a1a1a" stroke-width="0.3" textLength="25.6" lengthAdjust="spacingAndGlyphs">75.1</text>
<text transform="translate(617.9,579.6) rotate(-90)" font-size="18.5" text-anchor="end" fill="#1a1a1a" stroke="#1a1a1a" stroke-width="0.3" textLength="25.6" lengthAdjust="spacingAndGlyphs">83.1</text>
<text transform="translate(653.2,579.6) rotate(-90)" font-size="18.5" text-anchor="end" fill="#1a1a1a" stroke="#1a1a1a" stroke-width="0.3" textLength="25.6" lengthAdjust="spacingAndGlyphs">88.5</text>
<text transform="translate(681.3,579.6) rotate(-90)" font-size="18.5" text-anchor="end" fill="#1a1a1a" stroke="#1a1a1a" stroke-width="0.3" textLength="25.6" lengthAdjust="spacingAndGlyphs">92.8</text>
<text transform="translate(734.9,579.6) rotate(-90)" font-size="18.5" text-anchor="end" fill="#1a1a1a" stroke="#1a1a1a" stroke-width="0.3" textLength="33.0" lengthAdjust="spacingAndGlyphs">101.0</text>
<text transform="translate(779.4,579.6) rotate(-90)" font-size="18.5" font-weight="bold" text-anchor="end" fill="#000" textLength="34.3" lengthAdjust="spacingAndGlyphs">107.8</text>
<text transform="translate(820.5,579.6) rotate(-90)" font-size="18.5" text-anchor="end" fill="#1a1a1a" stroke="#1a1a1a" stroke-width="0.3" textLength="33.0" lengthAdjust="spacingAndGlyphs">114.1</text>
<text transform="translate(880.0,579.6) rotate(-90)" font-size="18.5" font-weight="bold" text-anchor="end" fill="#000" textLength="34.3" lengthAdjust="spacingAndGlyphs">123.2</text>
<text transform="translate(925.8,579.6) rotate(-90)" font-size="18.5" text-anchor="end" fill="#1a1a1a" stroke="#1a1a1a" stroke-width="0.3" textLength="33.0" lengthAdjust="spacingAndGlyphs">130.2</text>
<text transform="translate(988.5,579.6) rotate(-90)" font-size="18.5" text-anchor="end" fill="#1a1a1a" stroke="#1a1a1a" stroke-width="0.3" textLength="33.0" lengthAdjust="spacingAndGlyphs">139.8</text>
<text transform="translate(1017.9,579.6) rotate(-90)" font-size="18.5" text-anchor="end" fill="#1a1a1a" stroke="#1a1a1a" stroke-width="0.3" textLength="33.0" lengthAdjust="spacingAndGlyphs">144.3</text>
<text transform="translate(1050.6,579.6) rotate(-90)" font-size="18.5" text-anchor="end" fill="#1a1a1a" stroke="#1a1a1a" stroke-width="0.3" textLength="33.0" lengthAdjust="spacingAndGlyphs">149.3</text>
<text transform="translate(1094.4,579.6) rotate(-90)" font-size="18.5" text-anchor="end" fill="#1a1a1a" stroke="#1a1a1a" stroke-width="0.3" textLength="33.0" lengthAdjust="spacingAndGlyphs">156.0</text>
<text transform="translate(1128.4,579.6) rotate(-90)" font-size="18.5" text-anchor="end" fill="#1a1a1a" stroke="#1a1a1a" stroke-width="0.3" textLength="33.0" lengthAdjust="spacingAndGlyphs">161.2</text>
<text transform="translate(1160.4,579.6) rotate(-90)" font-size="18.5" text-anchor="end" fill="#1a1a1a" stroke="#1a1a1a" stroke-width="0.3" textLength="33.0" lengthAdjust="spacingAndGlyphs">166.1</text>
<text transform="translate(1182.0,579.6) rotate(-90)" font-size="18.5" text-anchor="end" fill="#1a1a1a" stroke="#1a1a1a" stroke-width="0.3" textLength="33.0" lengthAdjust="spacingAndGlyphs">169.4</text>
<text transform="translate(1231.7,579.6) rotate(-90)" font-size="18.5" font-weight="bold" text-anchor="end" fill="#000" textLength="34.3" lengthAdjust="spacingAndGlyphs">177.0</text>
<g stroke="#9a9a9a" stroke-width="2" fill="none">
<path d="M68,629.4 V644.3 H1225 V629.4"/>
<line x1="297.2" x2="297.2" y1="629.4" y2="644.3"/>
<line x1="861" x2="861" y1="629.4" y2="644.3"/>
</g>
<g font-size="18.5" fill="#a3a3a3" text-anchor="middle">
<text x="182.4" y="638.1" textLength="17.0" lengthAdjust="spacingAndGlyphs">IM</text>
<text x="578.5" y="638.1" textLength="17.5" lengthAdjust="spacingAndGlyphs">SV</text>
<text x="1050.0" y="638.1" textLength="16.5" lengthAdjust="spacingAndGlyphs">AL</text>
</g>
<g transform="translate(133.10,541.4)"><circle r="7.4" fill="#fff" stroke="#111" stroke-width="1.2"/><path d="M-4.8,4.2 V-0.8 A4.8,4.8 0 0 1 4.8,-0.8 V4.2 Z" fill="#1c1c1c"/><path d="M-2.9,4.4 V-0.8 A2.9,2.9 0 0 1 2.9,-0.8 V4.4 Z" fill="#fff"/><path d="M-1.7,4.4 V-0.7 A1.7,1.7 0 0 1 1.7,-0.7 V4.4 Z" fill="#111"/></g>
<g transform="translate(150.00,541.4)"><circle r="7.4" fill="#fff" stroke="#111" stroke-width="1.2"/><path d="M-4.8,4.2 V-0.8 A4.8,4.8 0 0 1 4.8,-0.8 V4.2 Z" fill="#1c1c1c"/><path d="M-2.9,4.4 V-0.8 A2.9,2.9 0 0 1 2.9,-0.8 V4.4 Z" fill="#fff"/><path d="M-1.7,4.4 V-0.7 A1.7,1.7 0 0 1 1.7,-0.7 V4.4 Z" fill="#111"/></g>
<g transform="translate(158.75,541.4)"><circle r="7.4" fill="#fff" stroke="#111" stroke-width="1.2"/><path d="M-4.8,4.2 V-0.8 A4.8,4.8 0 0 1 4.8,-0.8 V4.2 Z" fill="#1c1c1c"/><path d="M-2.9,4.4 V-0.8 A2.9,2.9 0 0 1 2.9,-0.8 V4.4 Z" fill="#fff"/><path d="M-1.7,4.4 V-0.7 A1.7,1.7 0 0 1 1.7,-0.7 V4.4 Z" fill="#111"/></g>
<g transform="translate(165.90,541.4)"><circle r="7.4" fill="#fff" stroke="#111" stroke-width="1.2"/><path d="M-4.8,4.2 V-0.8 A4.8,4.8 0 0 1 4.8,-0.8 V4.2 Z" fill="#1c1c1c"/><path d="M-2.9,4.4 V-0.8 A2.9,2.9 0 0 1 2.9,-0.8 V4.4 Z" fill="#fff"/><path d="M-1.7,4.4 V-0.7 A1.7,1.7 0 0 1 1.7,-0.7 V4.4 Z" fill="#111"/></g>
<g transform="translate(184.10,541.4)"><circle r="7.4" fill="#fff" stroke="#111" stroke-width="1.2"/><path d="M-4.8,4.2 V-0.8 A4.8,4.8 0 0 1 4.8,-0.8 V4.2 Z" fill="#1c1c1c"/><path d="M-2.9,4.4 V-0.8 A2.9,2.9 0 0 1 2.9,-0.8 V4.4 Z" fill="#fff"/><path d="M-1.7,4.4 V-0.7 A1.7,1.7 0 0 1 1.7,-0.7 V4.4 Z" fill="#111"/></g>
<g transform="translate(772.66,524.5)"><circle r="15" fill="url(#kom)" stroke="#0a0a1a" stroke-width="1.4"/><ellipse cx="0" cy="-11.6" rx="4" ry="2.4" fill="#8fc0ee" opacity="0.9"/><path d="M-12.1,-6.8 H12.1 L0,13.8 Z" fill="#fff"/><text x="-0.2" y="7.2" font-size="16.5" font-weight="bold" font-style="italic" text-anchor="middle" fill="#000" stroke="#000" stroke-width="0.5" textLength="8.6" lengthAdjust="spacingAndGlyphs">3</text></g>
<g transform="translate(873.32,524.5)"><circle r="15" fill="url(#kom)" stroke="#0a0a1a" stroke-width="1.4"/><ellipse cx="0" cy="-11.6" rx="4" ry="2.4" fill="#8fc0ee" opacity="0.9"/><path d="M-12.1,-6.8 H12.1 L0,13.8 Z" fill="#fff"/><text x="-0.2" y="7.2" font-size="16.5" font-weight="bold" font-style="italic" text-anchor="middle" fill="#000" stroke="#000" stroke-width="0.5" textLength="8.6" lengthAdjust="spacingAndGlyphs">3</text></g>
<g>
<path d="M26.45,291.75 a4.5,4.5 0 0 1 4.5,-4.5 h25.6 a4.5,4.5 0 0 1 4.5,4.5 V460.85 a17.3,17.3 0 0 1 -34.6,0 Z" fill="url(#badgeL)" stroke="#10a233" stroke-width="4.1"/>
<circle cx="43.8" cy="461.9" r="15.1" fill="url(#gcirc)" stroke="#1a0f1a" stroke-width="1.9"/>
<g transform="translate(43.8,462)">
<circle cx="-7.9" cy="4.2" r="3.7" fill="none" stroke="#fff" stroke-width="2"/><circle cx="7.0" cy="4.2" r="3.7" fill="none" stroke="#fff" stroke-width="2"/>
<path d="M-6.8,-7.4 L-3.6,-9.3 L1.9,-9.8 L5.5,-8.7 L5.2,-6.3 L3,-5.4 L5.9,-2.6 L4.2,-1.4 L1.9,-3.8 L2.2,1.9 L1.2,6.5 L-2.1,6.5 L-2.6,0.8 L-4.1,-1.9 L-6.8,-3.6 Z" fill="#fff" stroke="#fff" stroke-width="0.8" stroke-linejoin="round"/>
<path d="M-7.9,4.2 L-3,0 M7,4.2 L4.6,-1.8" stroke="#fff" stroke-width="1.4" fill="none"/>
</g>
<text transform="translate(51.6,437.8) rotate(-90)" font-size="24.5" font-weight="bold" fill="#111" stroke="#111" stroke-width="0.5" textLength="134.5" lengthAdjust="spacingAndGlyphs">42 - IMPERIA</text>
</g>
<g>
<path d="M1234.8,208.2 a4.5,4.5 0 0 1 4.5,-4.5 h25 a4.5,4.5 0 0 1 4.5,4.5 V435.1 a17,17 0 0 1 -34,0 Z" fill="url(#badgeR)" stroke="#e9000f" stroke-width="4.4"/>
<circle cx="1251.4" cy="434.4" r="14.4" fill="url(#rcirc)" stroke="#14201e" stroke-width="1.8"/>
<g transform="translate(1251.4,434.4)">
<circle cx="-7.1" cy="5.5" r="3.8" fill="none" stroke="#fff" stroke-width="2"/><circle cx="7.1" cy="5.5" r="3.8" fill="none" stroke="#fff" stroke-width="2"/>
<path d="M-5.2,-10.5 C-6.6,-7 -6.4,-3.5 -4.6,-1 L-3.4,3.5 L-2.2,7.2 L0.8,7.2 L0.2,2 L-0.6,-2 C0,-5 -0.6,-8 -1.4,-10.5 Z" fill="#fff"/>
<path d="M-4.1,-9 L-3.6,-12.6 M-1.8,-9 L0.9,-14" stroke="#fff" stroke-width="2.3" stroke-linecap="round" fill="none"/>
<path d="M0.2,3.2 L6.2,-2.6 M5,-1.8 L7.1,5.5 M-7.1,5.5 L-3,2" stroke="#fff" stroke-width="2.3" stroke-linecap="round" fill="none"/>
</g>
<text transform="translate(1261.5,408.4) rotate(-90)" font-size="24.5" font-weight="bold" fill="#111" stroke="#111" stroke-width="0.5" textLength="192.5" lengthAdjust="spacingAndGlyphs">228 - NOVI LIGURE</text>
</g>
<g fill="none" stroke="#0a0a0a" stroke-width="2.1" stroke-linecap="round" stroke-linejoin="round"><path d="M1235.7,507.7 C1234.2,510 1233.8,515 1235.2,517.6 C1236.4,519.4 1238.2,518.4 1238.8,515.5 C1239.3,512 1239.4,508.6 1240.6,507.6 C1242.4,506.8 1243.6,510.5 1243.7,514 C1243.8,517 1243,519 1242,520.3"/><path d="M1242,520.3 L1240.2,522.6 L1234.3,530 C1234,530.6 1234.4,530.9 1235.2,530.9 L1242.3,530.8 C1243.3,527.5 1242.3,524.5 1240.2,522.6"/><path d="M1235.0,535.0 C1234.0,538.5 1234.4,543 1236.4,543.9 C1238.4,544.4 1238.9,539.5 1239.8,536.4 C1240.8,534.4 1243.4,537 1243.2,540.6 C1243,543 1242,545 1240.6,546.2"/></g>
</svg></body></html>
